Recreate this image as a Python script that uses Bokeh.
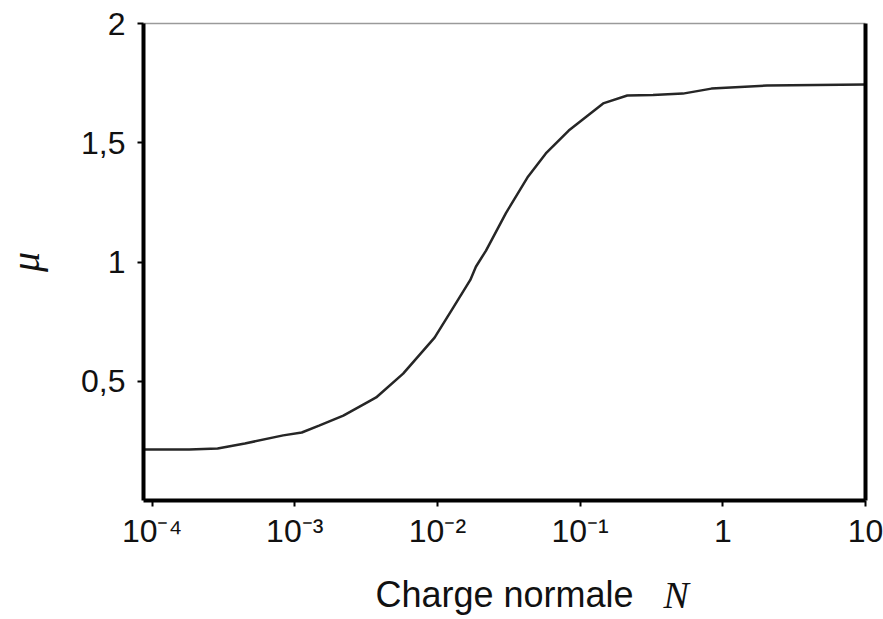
from bokeh.plotting import figure
from bokeh.models import FixedTicker, LinearAxis, Title, Range1d
from bokeh.embed import file_html
from bokeh.resources import INLINE

# --- data ---
N = [8.71e-5, 1.82e-4, 2.88e-4, 4.47e-4, 8.3e-4, 1.12e-3, 1.48e-3, 2.19e-3,
     3.39e-3, 3.72e-3, 5.75e-3, 9.55e-3, 1.29e-2, 1.70e-2, 1.86e-2, 2.19e-2,
     3.02e-2, 4.27e-2, 5.75e-2, 8.32e-2, 0.145, 0.214, 0.324, 0.525, 0.832,
     2.04, 10.0]
mu = [0.214, 0.214, 0.218, 0.239, 0.273, 0.285, 0.314, 0.356,
      0.419, 0.432, 0.532, 0.683, 0.809, 0.925, 0.980, 1.048,
      1.205, 1.354, 1.455, 1.551, 1.665, 1.698, 1.700, 1.706, 1.727,
      1.740, 1.744]

x_ticks = [1e-4, 1e-3, 1e-2, 1e-1, 1, 10]
x_tick_labels = ["10⁻⁴", "10⁻³", "10⁻²", "10⁻¹", "1", "10"]
y_ticks = [0.5, 1, 1.5, 2]
y_tick_labels = ["0,5", "1", "1,5", "2"]
x_label = "Charge normale"
x_symbol = "N"
y_label = "μ"

p = figure(width=883, height=619,
           x_axis_type="log",
           x_range=Range1d(10 ** -4.06, 10), y_range=Range1d(0, 2),
           output_backend="svg", toolbar_location=None,
           min_border_left=143, min_border_right=18,
           min_border_top=23, min_border_bottom=119)
p.xgrid.visible = False
p.ygrid.visible = False
p.outline_line_color = None
p.background_fill_color = "white"

p.line(N, mu, line_color="#262626", line_width=2.5)

xa = p.xaxis[0]
ya = p.yaxis[0]
xa.ticker = FixedTicker(ticks=x_ticks, minor_ticks=[])
xa.major_label_overrides = dict(zip(x_ticks, x_tick_labels))
ya.ticker = FixedTicker(ticks=y_ticks, minor_ticks=[])
ya.major_label_overrides = dict(zip(y_ticks, y_tick_labels))

for ax in (xa, ya):
    ax.axis_line_width = 4
    ax.axis_line_color = "black"
    ax.major_tick_line_width = 2
    ax.major_tick_line_color = "black"
    ax.major_tick_out = 6
    ax.major_tick_in = 0
    ax.minor_tick_out = 0
    ax.minor_tick_in = 0
    ax.major_label_text_font = "Liberation Sans"
    ax.major_label_text_font_size = "32px"
    ax.major_label_text_color = "#111111"

xa.major_label_standoff = 6
xa.axis_label = x_label
xa.axis_label_text_font = "Liberation Sans"
xa.axis_label_text_font_style = "normal"
xa.axis_label_text_font_size = "36px"
xa.axis_label_text_color = "#111111"
xa.axis_label_standoff = 22

ya.major_label_standoff = 12
ya.axis_label = y_label
ya.axis_label_text_font = "Liberation Serif"
ya.axis_label_text_font_style = "italic"
ya.axis_label_text_font_size = "40px"
ya.axis_label_text_color = "#111111"
ya.axis_label_standoff = 30

right = LinearAxis(ticker=FixedTicker(ticks=[]), axis_line_width=4,
                   axis_line_color="black", major_tick_out=0, major_tick_in=0,
                   minor_tick_out=0, minor_tick_in=0,
                   major_label_standoff=0, axis_label_standoff=0)
p.add_layout(right, "right")
top = LinearAxis(ticker=FixedTicker(ticks=[]), axis_line_width=1.5,
                 axis_line_color="#9a9a9a", major_tick_out=0, major_tick_in=0,
                 minor_tick_out=0, minor_tick_in=0,
                 major_label_standoff=0, axis_label_standoff=0)
p.add_layout(top, "above")

sym = Title(text=x_symbol, align="left", vertical_align="top",
            offset=520, standoff=-88,
            text_font="Liberation Serif", text_font_style="italic",
            text_font_size="38px", text_color="#111111")
p.add_layout(sym, "below")

open("out.html", "w").write(file_html(p, INLINE))
